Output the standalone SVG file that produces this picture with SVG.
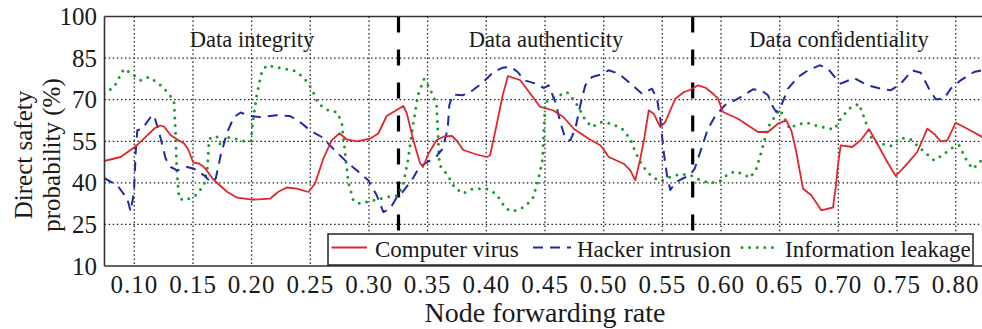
<svg xmlns="http://www.w3.org/2000/svg" width="982" height="329" viewBox="0 0 982 329">
  <style>
    .lbl { font-family: "Liberation Serif", "Times New Roman", serif; fill: #1a1a1a; }
    .tick { font-size: 25px; }
    .ytick { text-anchor: end; }
    .xtick { text-anchor: middle; }
    .title { font-size: 28px; }
    .region { font-size: 22.5px; text-anchor: middle; }
    .leg { font-size: 23px; }
    .grid { stroke: #222; stroke-width: 1.3; stroke-dasharray: 1.5 2.6; fill: none; }
    .divider { stroke: #000; stroke-width: 3.2; stroke-dasharray: 16 17; fill: none; }
    .virus { stroke: #e0262c; stroke-width: 1.8; fill: none; stroke-linejoin: round; }
    .hacker { stroke: #1f2aa6; stroke-width: 2; fill: none; stroke-dasharray: 10 7; stroke-linejoin: round; }
    .leak { stroke: #1d9a2c; stroke-width: 3; fill: none; stroke-dasharray: 0 7.6; stroke-linecap: round; stroke-linejoin: round; }
  </style>
  <defs>
    <clipPath id="plotArea">
      <rect x="104.5" y="16.5" width="878" height="249.5"/>
    </clipPath>
  </defs>

  <rect x="0" y="0" width="982" height="329" fill="#fff"/>

  <!-- dotted grid -->
  <g id="grid">
    <path class="grid" d="M104.5,58.1H982 M104.5,99.7H982 M104.5,141.3H982 M104.5,182.8H982 M104.5,224.4H982"/>
    <path class="grid" d="M134.3,16.5V266 M193,16.5V266 M251.6,16.5V266 M310.3,16.5V266 M369,16.5V266 M427.6,16.5V266 M486.3,16.5V266 M545,16.5V266 M603.7,16.5V266 M662.3,16.5V266 M721,16.5V266 M779.7,16.5V266 M838.3,16.5V266 M897,16.5V266 M955.7,16.5V266"/>
  </g>

  <!-- section dividers -->
  <g id="dividers">
    <path class="divider" d="M398.5,16.5V266 M692.7,16.5V266"/>
  </g>

  <!-- section captions -->
  <g id="captions" class="lbl region">
    <text x="252" y="47">Data integrity</text>
    <text x="546" y="47">Data authenticity</text>
    <text x="839" y="47">Data confidentiality</text>
  </g>

  <!-- data series -->
  <g id="series" clip-path="url(#plotArea)">
    <path id="series-leak" class="leak" d="M104,93.7 L114,87 124,68.7 134,75.3 140.7,80.3 149,77 159,83.7 169,93.7 174,102 175.7,135.3 176.7,168.7 179,198.7 185.7,200.3 195.7,195.3 204,185.3 207.3,168.7 209,142 210.7,137 217.3,137 221,146 226.7,137 237.3,139.3 247.3,142 251,141 253.3,118.7 256.7,95.3 261.7,72 266.7,65.3 280,68 293.3,70.3 303.3,77 311.7,88.7 318.3,103.7 328.3,110.3 336.7,112 341.7,122 345,152 348.3,182 353.3,200.3 360,203.7 373.3,200.3 387,197 398,195.5 403,185 408,160 413,125 418,95 424,79 429,87 434,98 436.5,104 438,135 439.5,165 447.7,175.3 454.3,187 462.7,193.7 472.7,188.7 486,188.7 496,193.7 506,208.7 512.7,211.3 524.3,207 532.7,198.7 537.7,182 542.7,158.7 543.7,132 545.3,102 555.3,97 567,92 575.3,102 580.3,110.3 585.3,120.3 592,127 600.3,122 612,123.7 622,128.7 630.3,138.7 635.3,152 642,165.3 652,177 661,181 670,177 680,174 690,175 700,180 710,183 720,181 728,174 735,171.3 745,175 750,178 756.3,168.7 761.3,152 768,127 774.7,117 779.7,109.3 784.7,118.7 789.7,128.7 796.3,124.7 806.3,122.7 818,126 834,129.5 840.7,118.7 849,108.7 859,103.7 865.7,122 872.3,140.3 880.7,143.7 890.7,146 900.7,138 910.7,139.3 920.7,148.7 934,160.3 942.3,155.3 950.7,148.7 959,145.3 965.7,158.7 972.3,168.7 979,163.7 984,156"/>
    <path id="series-hacker" class="hacker" d="M104,178 L117.3,185.3 127.3,198.7 130.7,211.3 134,192 135.7,152 137.3,130.3 142.3,128.7 150.7,117 154,115.3 159,132 165.7,158.7 170.7,167 177.3,170.3 187.3,167 194,168.7 204,175.3 210.7,182 215.7,178.7 220.7,155.3 227.3,132 234,117 240.7,112.5 250,116 260,117 276.7,115.3 290,116 300,122 310,130.3 321.7,137 333.3,148.7 346.7,162 356.7,170.3 368.3,180.3 376.7,195.3 383.3,212 390,208.7 398,195.3 402.7,192 412.7,178.7 419.3,167 427.7,162 436,157 442.7,148.7 447.7,128.7 449.3,105.3 452.7,94.7 462.7,95.3 472.7,90.3 482.7,82.7 492.7,72.7 502.7,67.7 511,67 517.7,72 524.3,80.3 536,83.7 544,88 548.7,85.3 555.3,102 560.3,122 565.3,138.7 570.3,140.3 575.3,128.7 580.3,105.3 585.3,85.3 592,77 600.3,74.7 608.7,70.3 618.7,73.7 628.7,82 642,93.7 652,88.7 657,98.7 660.3,118.7 663.7,152 667,175.3 670.3,190 676,182 684,178 690,175 694.7,168.7 701.3,148.7 708,128.7 714.7,117 724.7,105.3 738,98.7 753,89.3 761.3,90.3 768,95.3 773,107 776.3,112 781.3,105.3 788,88.7 798,77 808,70.3 819.7,65.3 828,68.7 836,78.7 840.7,83.7 854,78 867.3,85.3 880.7,88.7 890.7,90.3 900.7,83.7 912.3,70.3 920.7,72.7 929,88.7 935.7,99.3 944,98.7 950.7,88.7 960.7,80.3 974,72 984,70"/>
    <path id="series-virus" class="virus" d="M104,161 L120.7,157 135.7,146.3 147.3,135.3 155,128 160,125.5 164,126.5 170.7,135.3 179,140.5 184,143.5 188,149 193.3,162.7 199,163.5 204,167 214,180.3 227.3,192 237.3,197.7 252,199.7 270,198.7 278,192 286.7,187.5 296.7,188.7 308.3,192 315,183.7 323.3,158.7 331.7,140.3 339.3,133.3 346.7,139.3 356.7,141.3 370,138.7 378.3,133.5 386.7,116 396.7,110 403.3,106 406.7,113 413.3,140 420,163 423,167 428.3,154 436.7,140 444,136.5 452,136 457,141 463.3,150 475,154 486.7,157 490,155.5 496,128 502.7,95.3 508,76 520,80 530,93.3 540,106.7 553.3,110.5 563.3,117 573.7,128.7 588.7,138.7 600.3,145.3 604,150 608.7,157 623.7,163.7 630.3,170.3 635.3,180.3 640,160 644,140 648.7,110.3 653.7,113.7 660.3,127 665.3,122 675.3,98.7 684,92 690,90 698,85.3 706,88 713,93.7 718,98.7 723,112 738,118.7 758,132 768,132 778,123.7 786.3,120.3 791.3,130.3 796.3,152 803,188.7 811.3,195.3 821.3,210.3 833,207.5 836,185 838,165 840.7,145.3 852.3,147 860.7,140.3 869,129.3 877.3,143.7 887.3,162 895.7,176 905.7,165.3 917.3,152 927.3,128.7 934,133.7 940.7,141.3 947.3,140.3 955.7,122.7 967.3,128.7 984,138"/>
  </g>

  <!-- axes frame -->
  <g id="axes" fill="none" stroke="#333" stroke-width="1.6">
    <path d="M104.5,16.5H982 M104.5,16.5V266 M104.5,266H982"/>
  </g>

  <!-- legend -->
  <g id="legend">
    <rect x="328" y="234" width="645" height="31" fill="#fff" stroke="#222" stroke-width="1.5"/>
    <path class="virus" d="M331.5,247.5H367"/>
    <text class="lbl leg" x="375" y="256.5">Computer virus</text>
    <path class="hacker" d="M533,247.5H571"/>
    <text class="lbl leg" x="577" y="256.5">Hacker intrusion</text>
    <path class="leak" d="M742,247.5H779"/>
    <text class="lbl leg" x="785" y="256.5">Information leakage</text>
  </g>

  <!-- tick labels -->
  <g id="yticks" class="lbl tick ytick">
    <text x="97" y="25">100</text>
    <text x="97" y="66.6">85</text>
    <text x="97" y="108.2">70</text>
    <text x="97" y="149.8">55</text>
    <text x="97" y="191.3">40</text>
    <text x="97" y="232.9">25</text>
    <text x="97" y="274.5">10</text>
  </g>
  <g id="xticks" class="lbl tick xtick" letter-spacing="1">
    <text x="134.3" y="293">0.10</text>
    <text x="193" y="293">0.15</text>
    <text x="251.6" y="293">0.20</text>
    <text x="310.3" y="293">0.25</text>
    <text x="369" y="293">0.30</text>
    <text x="427.6" y="293">0.35</text>
    <text x="486.3" y="293">0.40</text>
    <text x="545" y="293">0.45</text>
    <text x="603.7" y="293">0.50</text>
    <text x="662.3" y="293">0.55</text>
    <text x="721" y="293">0.60</text>
    <text x="779.7" y="293">0.65</text>
    <text x="838.3" y="293">0.70</text>
    <text x="897" y="293">0.75</text>
    <text x="955.7" y="293">0.80</text>
  </g>

  <!-- axis titles -->
  <g id="axis-titles" class="lbl title">
    <text x="545" y="322" text-anchor="middle">Node forwarding rate</text>
    <text transform="translate(32,155) rotate(-90)" text-anchor="middle" font-size="25">Direct safety</text>
    <text transform="translate(60,155) rotate(-90)" text-anchor="middle" font-size="25">probability (%)</text>
  </g>
</svg>
